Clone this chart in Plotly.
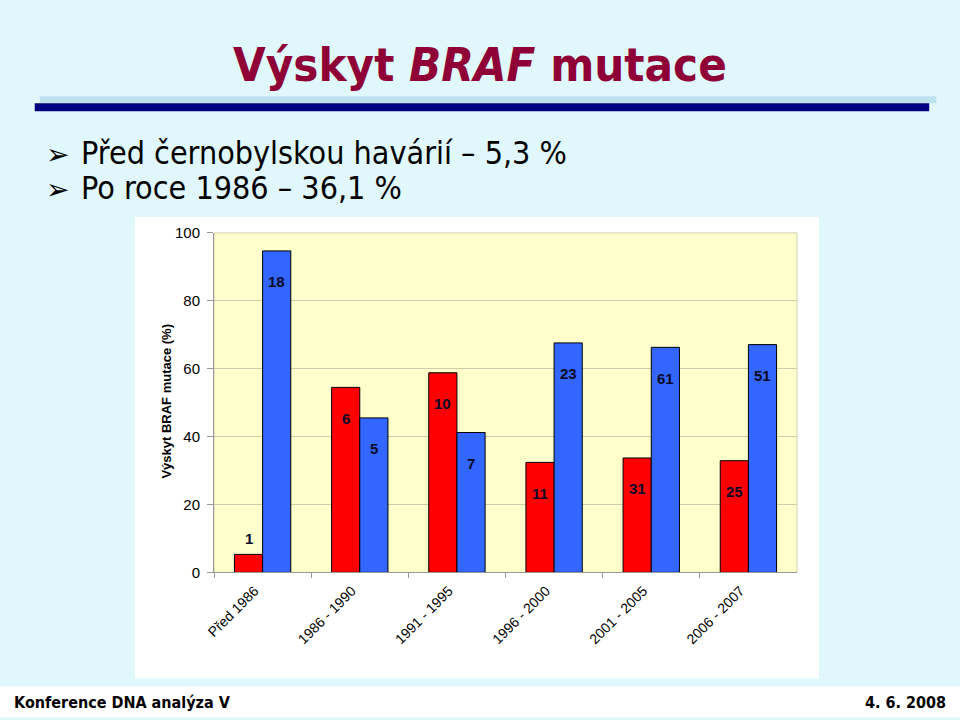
import plotly.graph_objects as go

categories = ["Před 1986", "1986 - 1990", "1991 - 1995", "1996 - 2000", "2001 - 2005", "2006 - 2007"]
red_pct = [5.3, 54.5, 58.8, 32.4, 33.7, 32.9]
blue_pct = [94.7, 45.5, 41.2, 67.6, 66.3, 67.1]
red_counts = [1, 6, 10, 11, 31, 25]
blue_counts = [18, 5, 7, 23, 61, 51]
y_ticks = [0, 20, 40, 60, 80, 100]

W, H = 960, 720
def px(x):
    # compensate for the horizontal placement observed in the capture
    return ((x - 9.3) / 0.989) / W
def py(y):
    # compensate for the vertical placement observed in the capture
    return 1 - ((y - 7.7) / 0.978) / H

fig = go.Figure()
fig.add_trace(go.Bar(x=categories, y=red_pct, name="red",
                     marker=dict(color="#FF0000", line=dict(color="#000000", width=1))))
fig.add_trace(go.Bar(x=categories, y=blue_pct, name="blue",
                     marker=dict(color="#3366FF", line=dict(color="#000000", width=1))))

annotations = []
label_font = dict(family="Liberation Sans, Arial", size=15, color="#0a0a2a")
for i, (v, c) in enumerate(zip(red_pct, red_counts)):
    shift = 16 if v < 10 else -31
    annotations.append(dict(x=i - 0.145, y=v, xref="x", yref="y", text="<b>%d</b>" % c,
                            showarrow=False, yshift=shift, yanchor="middle", font=label_font))
for i, (v, c) in enumerate(zip(blue_pct, blue_counts)):
    annotations.append(dict(x=i + 0.145, y=v, xref="x", yref="y", text="<b>%d</b>" % c,
                            showarrow=False, yshift=-31, yanchor="middle", font=label_font))

# y-axis title
annotations.append(dict(x=px(167), y=py(400), xref="paper", yref="paper",
                        xanchor="center", yanchor="middle",
                        text="<b>Výskyt BRAF mutace (%)</b>", textangle=-90, showarrow=False,
                        font=dict(family="Liberation Sans, Arial", size=13, color="#000000")))
# slide title
annotations.append(dict(x=px(480), y=py(63), xref="paper", yref="paper",
                        xanchor="center", yanchor="middle",
                        text="<b>Výskyt <i>BRAF</i> mutace</b>", showarrow=False,
                        font=dict(family="DejaVu Sans Condensed, DejaVu Sans", size=47, color="#8E0036")))
# bullets
bullets = ["Před černobylskou havárií – 5,3 %", "Po roce 1986 – 36,1 %"]
for j, b in enumerate(bullets):
    yy = 152 + j * 35
    annotations.append(dict(x=px(44), y=py(yy + 1), xref="paper", yref="paper",
                            xanchor="left", yanchor="middle",
                            text="➢", showarrow=False,
                            font=dict(family="DejaVu Sans", size=28, color="#000000")))
    annotations.append(dict(x=px(79), y=py(yy), xref="paper", yref="paper",
                            xanchor="left", yanchor="middle",
                            text=b, showarrow=False,
                            font=dict(family="DejaVu Sans Condensed, DejaVu Sans", size=32, color="#000000")))
# footer
annotations.append(dict(x=px(12), y=py(702), xref="paper", yref="paper",
                        xanchor="left", yanchor="middle",
                        text="<b>Konference DNA analýza V</b>", showarrow=False,
                        font=dict(family="DejaVu Sans Condensed, DejaVu Sans", size=16, color="#000000")))
annotations.append(dict(x=px(947), y=py(702), xref="paper", yref="paper",
                        xanchor="right", yanchor="middle",
                        text="<b>4. 6. 2008</b>", showarrow=False,
                        font=dict(family="DejaVu Sans Condensed, DejaVu Sans", size=16, color="#000000")))

shapes = [
    # title rules
    dict(type="rect", xref="paper", yref="paper", x0=px(40), x1=px(935), y0=py(102), y1=py(95),
         fillcolor="#BFE0EE", line=dict(width=0), layer="below"),
    dict(type="rect", xref="paper", yref="paper", x0=px(35), x1=px(928), y0=py(110), y1=py(102),
         fillcolor="#000080", line=dict(width=0), layer="below"),
    # chart white box
    dict(type="rect", xref="paper", yref="paper", x0=px(135), x1=px(818), y0=py(678), y1=py(216),
         fillcolor="#FFFFFF", line=dict(width=0), layer="below"),
    # plot area
    dict(type="rect", xref="paper", yref="paper", x0=px(214), x1=px(796), y0=py(572), y1=py(232),
         fillcolor="#FFFFCC", line=dict(color="#D0D0B0", width=1), layer="below"),
    # footer band
    dict(type="rect", xref="paper", yref="paper", x0=px(0), x1=px(960), y0=py(717), y1=py(686),
         fillcolor="#FFFFFF", line=dict(width=0), layer="below"),
]

fig.update_layout(
    width=W, height=H,
    margin=dict(l=0, r=0, t=0, b=0),
    paper_bgcolor="#E0F8FB",
    plot_bgcolor="rgba(0,0,0,0)",
    barmode="group", bargap=0.42, bargroupgap=0,
    showlegend=False,
    annotations=annotations,
    shapes=shapes,
    xaxis=dict(domain=[px(214), px(796)], tickangle=-45, tickson="boundaries",
               ticks="outside", ticklen=5, tickcolor="#999999",
               showline=True, linecolor="#999999", linewidth=1, showgrid=False,
               ticklabelshift=-8, ticklabelstandoff=4,
               tickfont=dict(family="Liberation Sans, Arial", size=14, color="#000000")),
    yaxis=dict(domain=[py(572), py(232)], range=[0, 100], tickvals=y_ticks,
               showgrid=True, gridcolor="#CDCDA8", gridwidth=1, zeroline=False,
               showline=True, linecolor="#999999", linewidth=1,
               ticks="outside", ticklen=6, tickcolor="#999999", ticklabelstandoff=4,
               tickfont=dict(family="Liberation Sans, Arial", size=15, color="#000000")),
)

fig.write_html("out.html")
